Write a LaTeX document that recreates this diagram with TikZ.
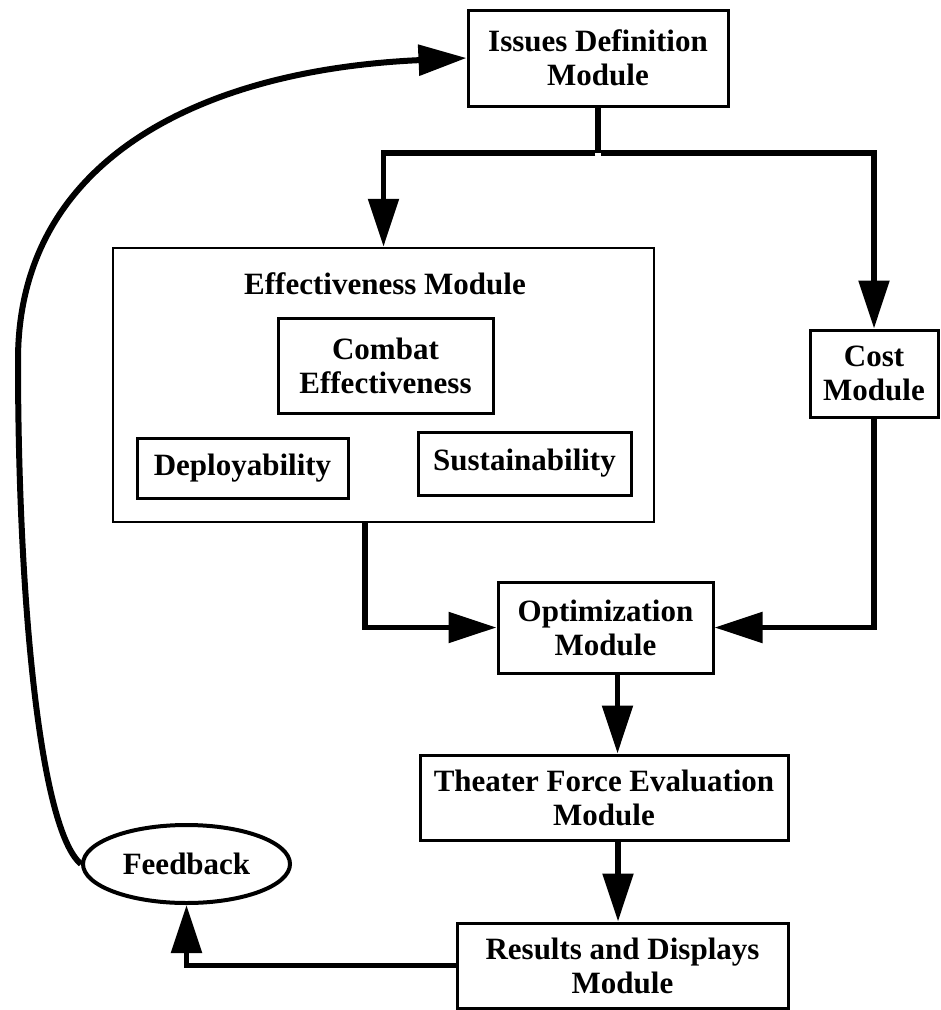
\documentclass[tikz,border=0pt]{standalone}
\usepackage{fontspec}
\setmainfont{Liberation Serif}
\usetikzlibrary{arrows.meta,shapes.geometric,calc}
\begin{document}
\begin{tikzpicture}[x={(1pt,0)},y={(0,-1pt)},
  every node/.style={font=\fontsize{31pt}{34pt}\selectfont\bfseries, align=center, inner sep=0pt},
  box/.style={draw, line width=3pt, rectangle},
  conn/.style={line width=5.5pt},
  arr/.style={line width=5.5pt, -{Triangle[length=48pt,width=30pt]}},
]
\useasboundingbox (0,0) rectangle (941,1010);
% nodes
\node[box, minimum width=260pt, minimum height=96pt] (issues) at (598,58) {Issues Definition\\Module};
\node[box, minimum width=128pt, minimum height=87pt] (cost) at (874,373.5) {Cost\\Module};
\node[box, line width=2.5pt, minimum width=541pt, minimum height=274pt] (eff) at (383.5,385) {};
\node (efftitle) at (385,284) {Effectiveness Module};
\node[box, minimum width=215pt, minimum height=95pt] (combat) at (385.5,365.5) {Combat\\Effectiveness};
\node[box, minimum width=211pt, minimum height=60pt] (deploy) at (242.5,468) {Deployability};
\node[box, minimum width=213pt, minimum height=63pt] (sustain) at (524.5,463.5) {Sustainability};
\node[box, minimum width=215pt, minimum height=91pt] (opt) at (605.5,627.5) {Optimization\\Module};
\node[box, minimum width=368pt, minimum height=85pt] (theater) at (604,797.5) {Theater Force Evaluation\\Module};
\node[box, minimum width=331pt, minimum height=85pt] (results) at (622.5,965.5) {Results and Displays\\Module};
\node[draw, ellipse, line width=4pt, minimum width=207pt, minimum height=78pt] (feedback) at (186.5,864) {Feedback};
% connectors
\coordinate (j) at (598,153);
\coordinate (bend) at (18,360);
\draw[conn] (issues.south) -- (j);
\draw[arr] ([xshift=-2.75pt]j) -| (eff.north);
\draw[arr] ([xshift=2.75pt]j) -| (cost.north);
\draw[arr] ([xshift=-18.5pt]eff.south) |- (opt.west);
\draw[arr] (cost.south) |- (opt.east);
\draw[arr] ([xshift=12pt]opt.south) -- ([xshift=12pt]opt.south |- theater.north);
\draw[arr] ([xshift=14pt]theater.south) -- ([xshift=14pt]theater.south |- results.north);
\draw[arr] (results.west) -| (feedback.south);
\draw[line width=6pt, -{Triangle[length=48pt,width=30pt]}]
  (feedback.west) .. controls (40,830) and (18,600) .. (bend)
  .. controls (18,160) and (200,70) .. (issues.west);
\end{tikzpicture}
\end{document}
